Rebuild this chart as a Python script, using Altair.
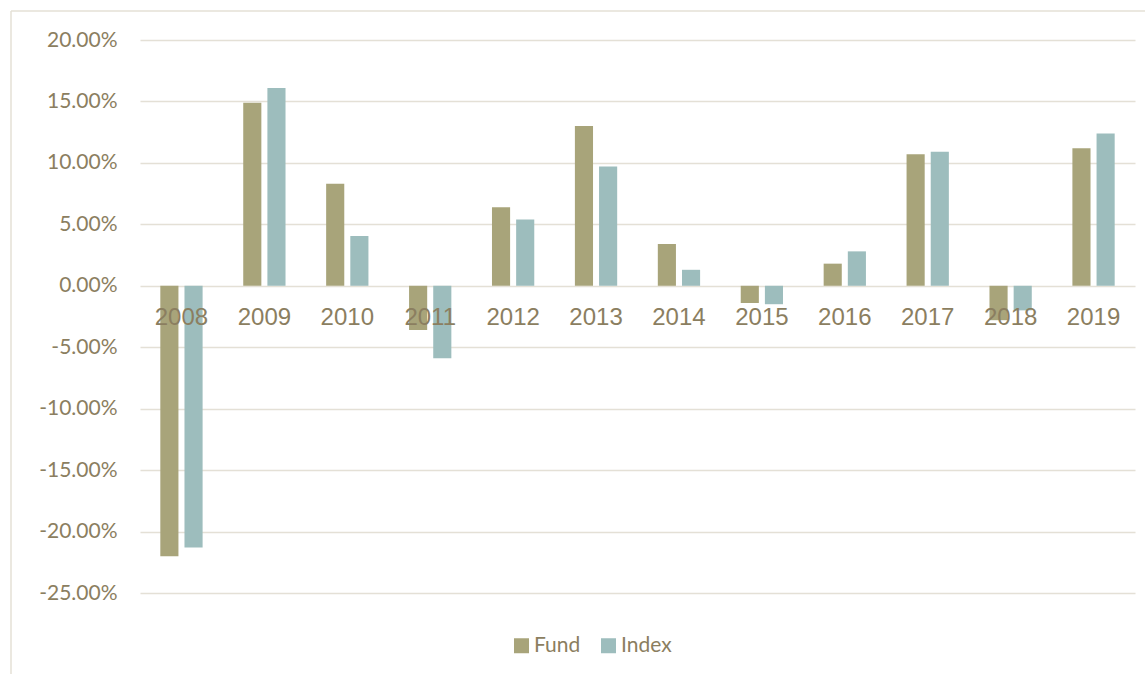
import altair as alt
import pandas as pd

years = ["2008", "2009", "2010", "2011", "2012", "2013", "2014", "2015", "2016", "2017", "2018", "2019"]
fund = [-0.220, 0.149, 0.083, -0.036, 0.064, 0.130, 0.034, -0.014, 0.018, 0.107, -0.028, 0.112]
index_vals = [-0.213, 0.161, 0.0405, -0.059, 0.054, 0.097, 0.013, -0.015, 0.028, 0.109, -0.020, 0.124]
series = ["Fund", "Index"]
colors = ["#A8A47A", "#9DBDBD"]
y_ticks = [-0.25, -0.20, -0.15, -0.10, -0.05, 0.0, 0.05, 0.10, 0.15, 0.20]

rows = []
for i, yr in enumerate(years):
    rows.append({"year": yr, "series": "Fund", "value": fund[i]})
    rows.append({"year": yr, "series": "Index", "value": index_vals[i]})
df = pd.DataFrame(rows)

TEXT = "#8B7E60"
GRID = "#E4E0D6"

bars = alt.Chart(df).mark_bar().encode(
    x=alt.X(
        "year:N",
        sort=years,
        scale=alt.Scale(paddingInner=0.49, paddingOuter=0.245),
        axis=alt.Axis(
            title=None, orient="bottom", offset=-307,
            labelFont="Liberation Sans", labelFontSize=24, labelColor=TEXT,
            labelPadding=19, ticks=False, domain=False, labelAngle=0,
            labelBaseline="top", zindex=1, grid=False,
        ),
    ),
    xOffset=alt.XOffset("series:N", sort=series, scale=alt.Scale(paddingInner=0.25, paddingOuter=0)),
    y=alt.Y(
        "value:Q",
        scale=alt.Scale(domain=[-0.25, 0.20], nice=False, zero=False),
        axis=alt.Axis(
            title=None, values=y_ticks,
            labelExpr="(datum.value < -0.000001 ? '-' : '') + format(abs(datum.value), '.2%')",
            labelFont="Lato", labelFontSize=21, labelColor=TEXT, labelPadding=23,
            ticks=False, domain=False, grid=True, gridColor=GRID, gridWidth=1.5,
        ),
    ),
    color=alt.Color(
        "series:N", sort=series,
        scale=alt.Scale(domain=series, range=colors),
        legend=alt.Legend(
            title=None, orient="none", direction="horizontal",
            legendX=371, legendY=595,
            symbolType="square", symbolSize=225, symbolStrokeWidth=0,
            labelFont="Lato", labelFontSize=21, labelColor=TEXT,
            labelOffset=2, columnPadding=17,
        ),
    ),
)

frame = pd.DataFrame({"k": [0]})
top_border = alt.Chart(frame).mark_rule(color=GRID, strokeWidth=1.5).encode(
    x=alt.value(-129), x2=alt.value(1010), y=alt.value(-29)
)
left_border = alt.Chart(frame).mark_rule(color=GRID, strokeWidth=1.5).encode(
    x=alt.value(-129), y=alt.value(-29), y2=alt.value(640)
)

chart = alt.layer(top_border, left_border, bars).properties(
    width=995, height=553,
    padding={"left": 140, "top": 40, "right": 10, "bottom": 81},
    autosize="none",
).configure_view(stroke=None)

chart.save("out.html", embed_options={"renderer": "svg", "actions": False})
